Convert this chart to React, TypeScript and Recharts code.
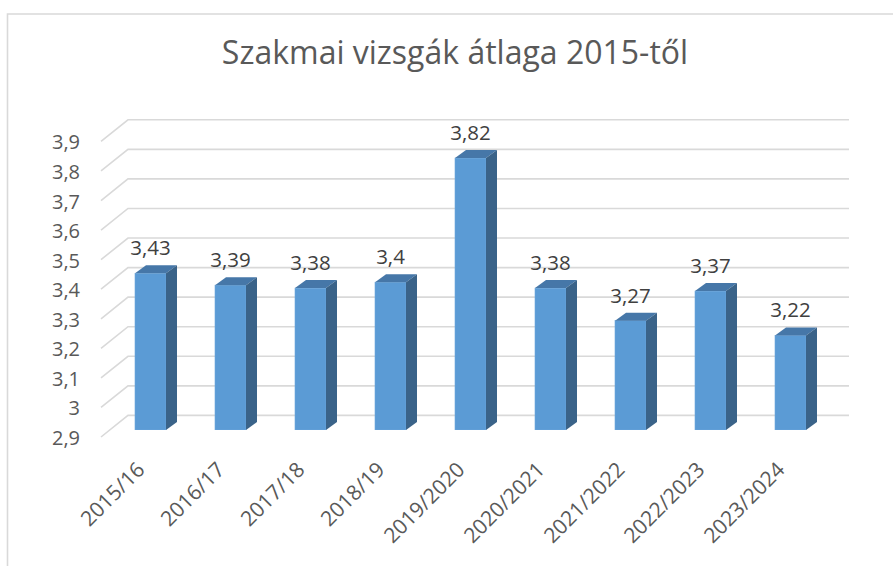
import React from 'react';
import {
  Bar, BarChart, CartesianGrid, LabelList, XAxis, YAxis,
} from 'recharts';

const years = ['2015/16', '2016/17', '2017/18', '2018/19', '2019/2020', '2020/2021', '2021/2022', '2022/2023', '2023/2024'];
const averages = [3.43, 3.39, 3.38, 3.4, 3.82, 3.38, 3.27, 3.37, 3.22];
const yTicks = [2.9, 3.0, 3.1, 3.2, 3.3, 3.4, 3.5, 3.6, 3.7, 3.8, 3.9];
const title = 'Szakmai vizsgák átlaga 2015-től';

const FONT = '"Open Sans", Lato, sans-serif';
// 3D offsets (bar depth and grid perspective)
const DX = 11;
const DY = 8;

const fmt = (v: number) => (Number.isInteger(v) ? String(v) : v.toString().replace('.', ','));

function Bar3D(props: any) {
  const { x, y, width, height } = props;
  if (height == null || height <= 0) return null;
  const r = x + width;
  const b = y + height;
  return (
    <g>
      <rect x={x} y={y} width={width} height={height} fill="#5b9bd5" stroke="#6fa8dc" strokeWidth={0.6} />
      <path d={`M${x},${y}L${x + DX},${y - DY}L${r + DX},${y - DY}L${r},${y}Z`} fill="#4677a8" />
      <path d={`M${r},${y}L${r + DX},${y - DY}L${r + DX},${b - DY}L${r},${b}Z`} fill="#3a6389" />
    </g>
  );
}

function GridLine(p: any) {
  const y = p.y1;
  return (
    <path
      key={`grid-${p.index}`}
      d={`M${p.x1 - 9},${y + 7}L${p.x1 + 18},${y - 14.6}L${p.x2 + 19},${y - 14.6}`}
      stroke="#d9d9d9"
      strokeWidth={1.6}
      fill="none"
    />
  );
}

function YTick(props: any) {
  const { y, payload } = props;
  return (
    <text x={80} y={y + 15} textAnchor="end" fill="#595959" fontSize={20} fontFamily={FONT}>
      {fmt(payload.value)}
    </text>
  );
}

function XTick(props: any) {
  const { x, payload } = props;
  const ax = x - 4;
  const ay = 471;
  return (
    <text x={ax} y={ay} textAnchor="end" fill="#595959" fontSize={21} fontFamily={FONT} transform={`rotate(-45, ${ax}, ${ay})`}>
      {payload.value}
    </text>
  );
}

function ValueLabel(props: any) {
  const { x, y, width, value } = props;
  return (
    <text x={x + width / 2} y={y - 18} textAnchor="middle" fill="#404040" fontSize={20.5} fontFamily={FONT}>
      {fmt(value)}
    </text>
  );
}

export default function App() {
  const data = years.map((name, i) => ({ name, value: averages[i] }));
  return (
    <div style={{ position: 'absolute', left: 0, top: 0, width: 893, height: 566, background: '#fff' }}>
      <svg width={893} height={566} style={{ position: 'absolute', left: 0, top: 0 }}>
        <path d="M7.5,566L7.5,14L893,14" stroke="#d9d9d9" strokeWidth={1.6} fill="none" />
        <text x={455} y={64} textAnchor="middle" fill="#595959" fontSize={32} fontFamily={FONT}>
          {title}
        </text>
      </svg>
      <div style={{ position: 'absolute', left: 0, top: 0 }}>
        <BarChart
          width={893}
          height={566}
          data={data}
          margin={{
            top: 134.4,
            right: 63,
            left: 0,
            bottom: 0,
          }}
        >
          <CartesianGrid vertical={false} horizontal={GridLine} />
          <XAxis dataKey="name" height={136} axisLine={false} tickLine={false} tick={<XTick />} interval={0} />
          <YAxis
            domain={[2.9, 3.9]}
            ticks={yTicks}
            width={110}
            axisLine={false}
            tickLine={false}
            tick={<YTick />}
            allowDataOverflow
          />
          <Bar dataKey="value" barSize={31} shape={<Bar3D />} isAnimationActive={false}>
            <LabelList dataKey="value" content={<ValueLabel />} />
          </Bar>
        </BarChart>
      </div>
    </div>
  );
}
